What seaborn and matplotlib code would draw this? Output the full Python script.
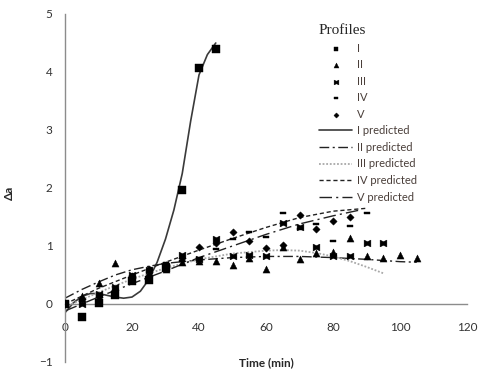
import numpy as np
import pandas as pd
import matplotlib
matplotlib.use("Agg")
import matplotlib.pyplot as plt
import seaborn as sns
from matplotlib.path import Path

# observed profiles (time in min, delta a)
t_I = [0, 5, 10, 15, 20, 25, 30, 35, 40, 45]
y_I = [0.00, -0.22, 0.02, 0.15, 0.40, 0.42, 0.62, 1.97, 4.07, 4.40]

t_II = [0, 5, 10, 15, 20, 25, 30, 35, 40, 45, 50, 55, 60, 65, 70, 75, 80, 85, 90, 95, 100, 105]
y_II = [0.02, 0.13, 0.36, 0.71, 0.45, 0.55, 0.60, 0.72, 0.74, 0.75, 0.67, 0.80, 0.60, 0.99,
        0.78, 0.88, 0.89, 1.13, 0.83, 0.79, 0.84, 0.80]

t_III = [0, 5, 10, 15, 20, 25, 30, 35, 40, 45, 50, 55, 60, 65, 70, 75, 80, 85, 90, 95]
y_III = [0.00, 0.00, 0.17, 0.30, 0.50, 0.58, 0.65, 0.85, 0.78, 1.12, 0.82, 0.85, 0.83, 1.40,
         1.32, 0.98, 0.82, 0.83, 1.06, 1.06]

t_IV = [0, 5, 10, 15, 20, 25, 30, 35, 40, 45, 50, 55, 60, 65, 70, 75, 80, 85, 90]
y_IV = [0.02, 0.05, 0.13, 0.22, 0.45, 0.55, 0.70, 0.75, 0.80, 0.95, 1.12, 1.24, 1.15, 1.57,
        1.30, 1.38, 1.09, 1.35, 1.57]

t_V = [0, 5, 10, 15, 20, 25, 30, 35, 40, 45, 50, 55, 60, 65, 70, 75, 80, 85]
y_V = [0.00, 0.08, 0.12, 0.25, 0.48, 0.60, 0.68, 0.80, 0.98, 1.05, 1.24, 1.09, 0.97, 1.02,
       1.53, 1.30, 1.43, 1.50]

# predicted curves
tp_I = [0, 2.5, 5, 7.5, 10, 12.5, 15, 17.5, 20, 22.5, 25, 27.5, 30, 32.5, 35, 37.5, 40, 42.5, 45]
yp_I = [-0.15, 0.02, 0.13, 0.18, 0.18, 0.15, 0.12, 0.10, 0.12, 0.22, 0.42, 0.72, 1.12, 1.62,
        2.25, 3.15, 3.95, 4.30, 4.50]

tp_II = [0, 5, 10, 15, 20, 25, 30, 40, 50, 60, 70, 80, 90, 100, 105]
yp_II = [0.10, 0.25, 0.38, 0.50, 0.59, 0.65, 0.70, 0.76, 0.80, 0.82, 0.82, 0.80, 0.77, 0.73, 0.72]

tp_III = [0, 10, 20, 30, 40, 50, 60, 65, 70, 75, 80, 85, 90, 95]
yp_III = [-0.05, 0.20, 0.43, 0.62, 0.77, 0.87, 0.92, 0.93, 0.92, 0.88, 0.82, 0.74, 0.64, 0.53]

tp_IV = [0, 10, 20, 30, 40, 50, 60, 70, 80, 90]
yp_IV = [0.00, 0.27, 0.50, 0.72, 0.93, 1.13, 1.32, 1.49, 1.60, 1.65]

tp_V = [0, 10, 20, 30, 40, 50, 60, 70, 80, 88]
yp_V = [-0.12, 0.12, 0.35, 0.57, 0.80, 1.00, 1.20, 1.38, 1.52, 1.62]

bowtie = Path([(-1, -1), (0, -0.55), (1, -1), (1, 1), (0, 0.55), (-1, 1), (-1, -1)])
bar = Path([(-1, -0.4), (1, -0.4), (1, 0.4), (-1, 0.4), (-1, -0.4)])

sns.set_style("white")
plt.rcParams["font.family"] = ["Lato", "DejaVu Sans"]

fig = plt.figure(figsize=(4.82, 3.73), dpi=100)
ax = fig.add_axes([65 / 482, 1 - 362 / 373, 402 / 482, 348 / 373])

obs = [("I", t_I, y_I, "s", 26), ("II", t_II, y_II, "^", 26), ("III", t_III, y_III, bowtie, 24),
       ("IV", t_IV, y_IV, bar, 24), ("V", t_V, y_V, "D", 14)]
for name, t, y, m, s in obs:
    sns.scatterplot(x=t, y=y, marker=m, s=s, color="black", edgecolor="black",
                    linewidth=0.3, label=name, ax=ax, zorder=3)

pred = [("I predicted", tp_I, yp_I, "-", "#3a3a3a", 1.2),
        ("II predicted", tp_II, yp_II, (0, (7, 2.5, 1.5, 2.5)), "#222222", 1.0),
        ("III predicted", tp_III, yp_III, (0, (1, 1)), "#a8a8a8", 1.3),
        ("IV predicted", tp_IV, yp_IV, (0, (3, 2)), "#222222", 1.0),
        ("V predicted", tp_V, yp_V, (0, (9, 3, 1.5, 3)), "#222222", 1.0)]
for name, t, y, ls, c, lw in pred:
    sns.lineplot(x=t, y=y, color=c, linewidth=lw, label=name, ax=ax, zorder=2)
    ax.lines[-1].set_linestyle(ls)

ax.set_xlim(0, 120)
ax.set_ylim(-1, 5)
ax.set_xticks(range(0, 121, 20))
ax.set_yticks(range(-1, 6))
ax.spines["top"].set_visible(False)
ax.spines["right"].set_visible(False)
ax.spines["bottom"].set_position(("data", 0))
for sp in ["left", "bottom"]:
    ax.spines[sp].set_color("#8c8c8c")
    ax.spines[sp].set_linewidth(1.0)
ax.tick_params(axis="x", length=0, pad=13, labelsize=8.5, labelcolor="#333333")
ax.tick_params(axis="y", length=0, pad=9, labelsize=8.5, labelcolor="#333333")

ax.set_xlabel("Time (min)", fontsize=8.5, fontweight="bold")
ax.xaxis.set_label_coords(0.5, 0.015)
ax.set_ylabel("Δa", fontsize=8.5, fontweight="bold")
ax.yaxis.set_label_coords(-0.125, 0.486)

handles, labels = ax.get_legend_handles_labels()
leg = ax.legend(handles, labels, title="Profiles", loc="upper left",
                bbox_to_anchor=(319 / 482, 1 - 24 / 373), bbox_transform=fig.transFigure,
                frameon=False, fontsize=8, handlelength=3, handletextpad=0.45,
                labelspacing=0.5, borderpad=0, borderaxespad=0, alignment="left",
                labelcolor="#4a3f3a", markerscale=0.7)
leg.get_title().set_fontfamily(["Liberation Serif", "DejaVu Serif"])
leg.get_title().set_fontsize(11)

fig.savefig("out.png", dpi=100)
